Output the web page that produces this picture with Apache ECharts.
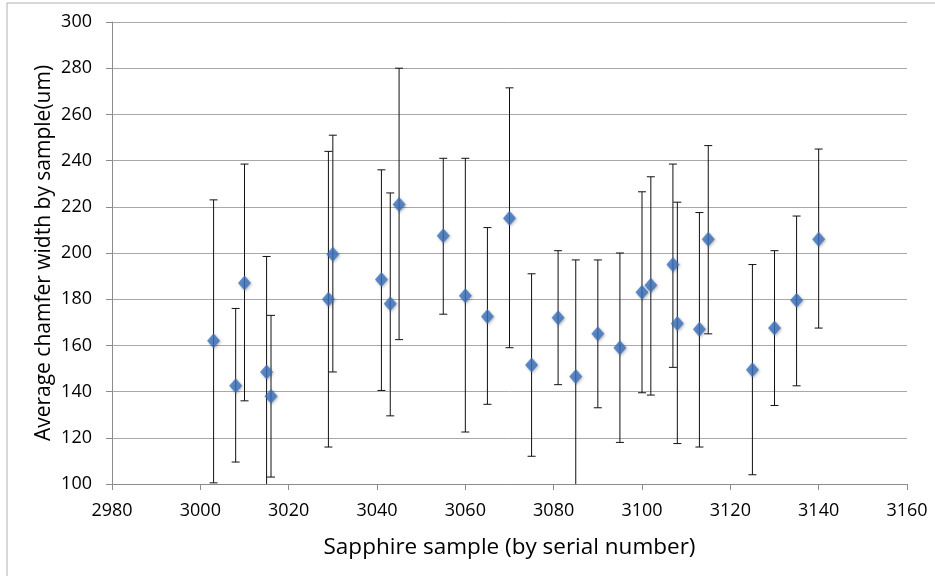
<!DOCTYPE html>
<html>
<head>
<meta charset="utf-8">
<script src="https://cdn.jsdelivr.net/npm/echarts@6/dist/echarts.min.js"></script>
<style>html,body{margin:0;padding:0;background:#fff}#c{width:935px;height:576px}</style>
</head>
<body>
<div id="c"></div>
<script>
var serials = [3003,3008,3010,3015,3016,3029,3030,3041,3043,3045,3055,3060,3065,3070,3075,3081,3085,3090,3095,3100,3102,3107,3108,3113,3115,3125,3130,3135,3140];
var means = [162,142.5,187,148.5,138,180,199.5,188.5,178,221,207.5,181.5,172.5,215,151.5,172,146.5,165,159,183,186,195,169.5,167,206,149.5,167.5,179.5,206];
var lows = [100.5,109.5,136,98,103,116,148.5,140.5,129.5,162.5,173.5,122.5,134.5,159,112,143,96,133,118,139.5,138.5,150.5,117.5,116,165,104,134,142.5,167.5];
var highs = [223,176,238.5,198.5,173,244,251,236,226,280,241,241,211,271.5,191,201,197,197,200,226.5,233,238.5,222,217.5,246.5,195,201,216,245];
var xTitle = 'Sapphire sample (by serial number)';
var yTitle = 'Average chamfer width by sample(um)';

var font = 'Open Sans';
var pts = serials.map(function(s,i){return [s, means[i]];});
var errs = serials.map(function(s,i){return [s, lows[i], highs[i]];});

var chart = echarts.init(document.getElementById('c'));
chart.setOption({
  animation: false,
  backgroundColor: '#fff',
  graphic: [{type:'rect', shape:{x:7,y:3,width:1000,height:700}, style:{fill:'none',stroke:'#b0b0b0',lineWidth:1}, silent:true}],
  grid: {left:112, right:28, top:22, bottom:92},
  xAxis: {
    type:'value', min:2980, max:3160, interval:20,
    name: xTitle, nameLocation:'middle', nameGap:52,
    nameTextStyle:{fontFamily:font, fontSize:22.5, color:'#000'},
    axisLine:{show:true, lineStyle:{color:'#8c8c8c'}},
    axisTick:{show:true, length:6, lineStyle:{color:'#8c8c8c'}},
    axisLabel:{fontFamily:font, fontSize:18, color:'#000', margin:18, formatter:function(v){return String(v);}},
    splitLine:{show:false}
  },
  yAxis: {
    type:'value', min:100, max:300, interval:20,
    name: yTitle, nameLocation:'middle', nameGap:57, nameMoveOverlap:false,
    nameTextStyle:{fontFamily:font, fontSize:21, color:'#000'},
    axisLine:{show:true, lineStyle:{color:'#8c8c8c'}},
    axisTick:{show:true, length:6, lineStyle:{color:'#8c8c8c'}},
    axisLabel:{fontFamily:font, fontSize:18, color:'#000', margin:20},
    splitLine:{show:true, lineStyle:{color:'#a8a8a8', width:1}}
  },
  series: [
    {
      type:'custom', data: errs, clip:true, z:2,
      renderItem: function(params, api){
        var x = api.value(0), lo = api.value(1), hi = api.value(2);
        var pL = api.coord([x, lo]), pH = api.coord([x, hi]);
        var w = 4;
        var st = {stroke:'#111', lineWidth:1};
        return {type:'group', children:[
          {type:'line', shape:{x1:pL[0],y1:pL[1],x2:pH[0],y2:pH[1]}, style:st},
          {type:'line', shape:{x1:pL[0]-w,y1:pL[1],x2:pL[0]+w,y2:pL[1]}, style:st},
          {type:'line', shape:{x1:pH[0]-w,y1:pH[1],x2:pH[0]+w,y2:pH[1]}, style:st}
        ]};
      }
    },
    {
      type:'scatter', data: pts, symbol:'diamond', symbolSize:[13,15], z:3,
      itemStyle:{color:'#3b72bf', shadowBlur:3, shadowColor:'rgba(0,0,0,0.35)', shadowOffsetX:1, shadowOffsetY:1}
    }
  ]
});
</script>
</body>
</html>
